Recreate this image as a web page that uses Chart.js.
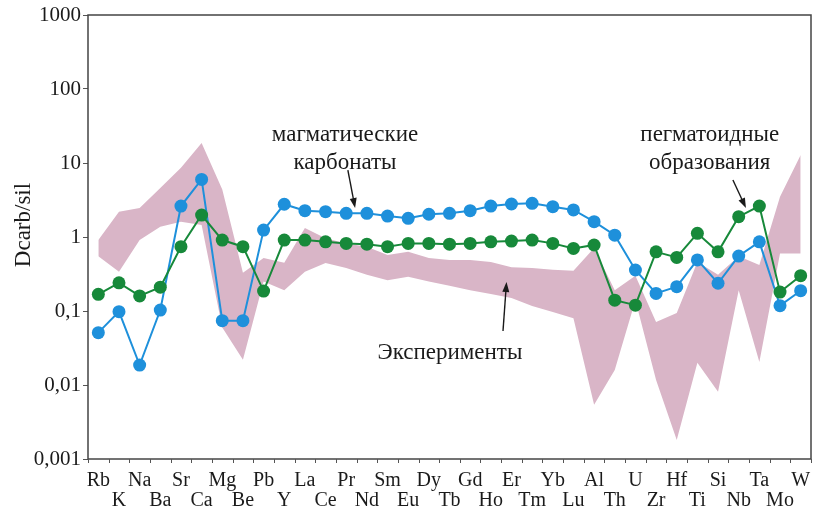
<!DOCTYPE html>
<html>
<head>
<meta charset="utf-8">
<script src="https://cdn.jsdelivr.net/npm/chart.js@4.4.1/dist/chart.umd.min.js"></script>
<style>
  html, body { margin: 0; padding: 0; background: #ffffff; }
  #wrap { width: 814px; height: 513px; }
</style>
</head>
<body>
<div id="wrap"><canvas id="c" width="814" height="513"></canvas></div>
<script>
// Elements along the x axis
const elements = ['Rb','K','Na','Ba','Sr','Ca','Mg','Be','Pb','Y','La','Ce','Pr','Nd','Sm','Eu','Dy','Tb','Gd','Ho','Er','Tm','Yb','Lu','Al','Th','U','Zr','Hf','Ti','Si','Nb','Ta','Mo','W'];

// D carbonate / silicate partition coefficients
const magmaticCarbonates = [0.051, 0.098, 0.0186, 0.103, 2.62, 6.0, 0.074, 0.074, 1.24, 2.77, 2.27, 2.2, 2.09, 2.09, 1.92, 1.79, 2.03, 2.09, 2.27, 2.62, 2.79, 2.85, 2.57, 2.32, 1.61, 1.06, 0.358, 0.173, 0.213, 0.49, 0.237, 0.553, 0.86, 0.118, 0.188];
const pegmatoidBodies = [0.168, 0.24, 0.16, 0.21, 0.74, 1.98, 0.91, 0.74, 0.186, 0.91, 0.91, 0.86, 0.82, 0.80, 0.74, 0.82, 0.82, 0.80, 0.82, 0.86, 0.88, 0.91, 0.82, 0.70, 0.78, 0.14, 0.12, 0.63, 0.53, 1.12, 0.63, 1.88, 2.62, 0.18, 0.30];

// Experimental range (upper and lower envelope)
const experimentMax = [0.91, 2.2, 2.47, 4.6, 8.6, 18.6, 4.4, 0.33, 0.52, 0.45, 1.32, 0.96, 0.82, 0.74, 0.57, 0.63, 0.52, 0.49, 0.49, 0.46, 0.39, 0.38, 0.36, 0.35, 0.71, 0.19, 0.30, 0.071, 0.094, 0.46, 0.31, 0.55, 0.42, 3.5, 12.8];
const experimentMin = [0.55, 0.34, 0.91, 1.38, 1.61, 1.45, 0.06, 0.022, 0.25, 0.19, 0.34, 0.445, 0.38, 0.31, 0.26, 0.29, 0.25, 0.22, 0.19, 0.17, 0.15, 0.117, 0.097, 0.08, 0.0054, 0.016, 0.14, 0.0117, 0.0018, 0.02, 0.0081, 0.19, 0.0205, 0.6, 0.6];

// Y axis decades
const yTicks = [0.001, 0.01, 0.1, 1, 10, 100, 1000];

// Labels with arrows, anchored in data space (x = element index, y = value)
const notes = [
  { lines: ['магматические', 'карбонаты'], x: 11.94, y: 23.9, arrow: [12.08, 8.04, 12.43, 2.46] },
  { lines: ['пегматоидные', 'образования'], x: 29.6, y: 23.9, arrow: [30.72, 5.89, 31.35, 2.46] },
  { lines: ['Эксперименты'], x: 17.02, y: 0.027, arrow: [19.59, 0.0537, 19.76, 0.246] }
];

const SERIF = '"Liberation Serif", "Times New Roman", serif';
const PINK = '#d9b5c7';
const BLUE = '#1e90db';
const GREEN = '#17893a';

const decorations = {
  id: 'decorations',
  afterDatasetsDraw(chart) {
    const { ctx, chartArea: a, scales } = chart;
    const xs = scales.x, ys = scales.y;
    ctx.save();
    // frame
    ctx.strokeStyle = '#444';
    ctx.lineWidth = 1.5;
    ctx.strokeRect(a.left, a.top, a.right - a.left, a.bottom - a.top);

    // short tick marks between the elements, below the axis
    ctx.lineWidth = 1;
    ctx.strokeStyle = '#555';
    ctx.beginPath();
    for (let i = 0; i <= elements.length; i++) {
      const x = Math.round(xs.getPixelForValue(i - 0.5)) + 0.5;
      ctx.moveTo(x, a.bottom);
      ctx.lineTo(x, a.bottom + 4);
    }
    ctx.stroke();

    // notes
    ctx.fillStyle = '#1a1a1a';
    ctx.font = '23px ' + SERIF;
    ctx.textAlign = 'center';
    ctx.textBaseline = 'middle';
    notes.forEach(n => {
      const cx = xs.getPixelForValue(n.x);
      const cy = ys.getPixelForValue(n.y);
      n.lines.forEach((t, i) => ctx.fillText(t, cx, cy + i * 28));
      const [x0v, y0v, x1v, y1v] = n.arrow;
      const x0 = xs.getPixelForValue(x0v), y0 = ys.getPixelForValue(y0v);
      const x1 = xs.getPixelForValue(x1v), y1 = ys.getPixelForValue(y1v);
      const ang = Math.atan2(y1 - y0, x1 - x0);
      const hl = 10, hw = 3.5;
      ctx.strokeStyle = '#1a1a1a';
      ctx.lineWidth = 1.4;
      ctx.beginPath();
      ctx.moveTo(x0, y0);
      ctx.lineTo(x1 - Math.cos(ang) * hl * 0.8, y1 - Math.sin(ang) * hl * 0.8);
      ctx.stroke();
      ctx.beginPath();
      ctx.moveTo(x1, y1);
      ctx.lineTo(x1 - Math.cos(ang) * hl - Math.sin(ang) * hw, y1 - Math.sin(ang) * hl + Math.cos(ang) * hw);
      ctx.lineTo(x1 - Math.cos(ang) * hl + Math.sin(ang) * hw, y1 - Math.sin(ang) * hl - Math.cos(ang) * hw);
      ctx.closePath();
      ctx.fill();
    });

    // y axis title
    ctx.save();
    ctx.translate(24, 225);
    ctx.rotate(-Math.PI / 2);
    ctx.font = '23px ' + SERIF;
    ctx.fillStyle = '#1a1a1a';
    ctx.textAlign = 'center';
    ctx.textBaseline = 'middle';
    ctx.fillText('Dcarb/sil', 0, 0);
    ctx.restore();
    ctx.restore();
  }
};

new Chart(document.getElementById('c'), {
  type: 'line',
  data: {
    labels: elements,
    datasets: [
      {
        label: 'Эксперименты max',
        data: experimentMax,
        borderColor: 'rgba(0,0,0,0)',
        borderWidth: 0,
        backgroundColor: PINK,
        pointRadius: 0,
        fill: '+1',
        tension: 0,
        order: 10
      },
      {
        label: 'Эксперименты min',
        data: experimentMin,
        borderColor: 'rgba(0,0,0,0)',
        borderWidth: 0,
        backgroundColor: PINK,
        pointRadius: 0,
        fill: false,
        tension: 0,
        order: 11
      },
      {
        label: 'магматические карбонаты',
        data: magmaticCarbonates,
        borderColor: BLUE,
        backgroundColor: BLUE,
        borderWidth: 2,
        pointRadius: 6.5,
        pointBorderWidth: 0,
        fill: false,
        tension: 0,
        order: 2
      },
      {
        label: 'пегматоидные образования',
        data: pegmatoidBodies,
        borderColor: GREEN,
        backgroundColor: GREEN,
        borderWidth: 2,
        pointRadius: 6.5,
        pointBorderWidth: 0,
        fill: false,
        tension: 0,
        order: 1
      }
    ]
  },
  options: {
    responsive: false,
    animation: false,
    devicePixelRatio: 1,
    layout: { autoPadding: false, padding: { top: 15, right: 3, left: 0, bottom: 0 } },
    plugins: { legend: { display: false }, tooltip: { enabled: false } },
    scales: {
      x: {
        type: 'category',
        offset: true,
        border: { display: false },
        grid: { offset: true, drawOnChartArea: false, drawTicks: true, tickLength: 12, tickColor: 'rgba(0,0,0,0)' },
        ticks: {
          autoSkip: false,
          maxRotation: 0,
          minRotation: 0,
          padding: 0,
          color: '#1a1a1a',
          font: { family: SERIF, size: 20, lineHeight: 1.0 },
          callback: (v, i) => (i % 2 === 0 ? [elements[i]] : ['', elements[i]])
        },
        afterFit: s => { s.height = 54; }
      },
      y: {
        type: 'logarithmic',
        min: 0.001,
        max: 1000,
        border: { display: false },
        grid: { drawOnChartArea: false, drawTicks: true, tickLength: 5, color: '#555' },
        afterBuildTicks: s => { s.ticks = yTicks.map(v => ({ value: v, major: true })); },
        ticks: {
          autoSkip: false,
          padding: 2,
          color: '#1a1a1a',
          font: { family: SERIF, size: 21 },
          callback: v => String(v).replace('.', ',')
        },
        afterFit: s => { s.width = 88; }
      }
    }
  },
  plugins: [decorations]
});
</script>
</body>
</html>
